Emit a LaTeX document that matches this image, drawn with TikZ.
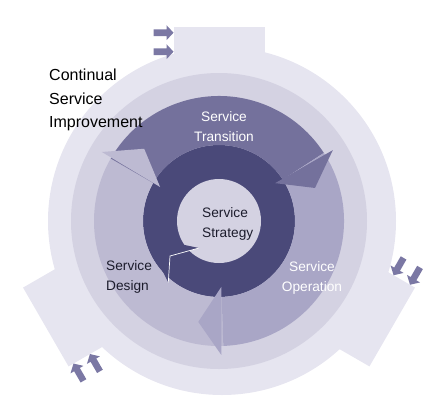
\documentclass[tikz,border=0pt]{standalone}
\usepackage{fontspec}
\setmainfont{Liberation Sans}
\definecolor{cOuter}{HTML}{E6E5F0}
\definecolor{cMid}{HTML}{D4D2E2}
\definecolor{cDesign}{HTML}{BDBAD2}
\definecolor{cOper}{HTML}{A9A6C6}
\definecolor{cTrans}{HTML}{74719C}
\definecolor{cDark}{HTML}{4A4979}
\definecolor{cCenter}{HTML}{D4D2E2}
\definecolor{cSmall}{HTML}{7B78A4}
\definecolor{cText}{HTML}{1C1C2C}
\tikzset{
  bigtext/.style={font=\fontsize{16}{23.5}\selectfont, align=left, text=black, inner sep=0pt},
  lbl/.style={font=\fontsize{13.7}{20}\selectfont, inner sep=0pt},
  smallarrow/.style={fill=cSmall},
}
\begin{document}
\begin{tikzpicture}[x=1pt,y=1pt]
\useasboundingbox (0,0) rectangle (444,-402);
\coordinate (C) at (219,-221);
\coordinate (T) at (219,-227);
% outer light circle
\fill[cOuter] (222,-221) circle (174);
% tabs with small arrows
\foreach \r in {0,120,240}{
  \begin{scope}[shift={(T)}, rotate=\r]
    \fill[cOuter] (-45.5,0) rectangle (45.5,200);
    \foreach \u in {194.3,175.3}{
      \fill[smallarrow] (-65.5,\u-3.3) -- (-52.5,\u-3.3) -- (-52.5,\u-7.5) -- (-45.5,\u)
        -- (-52.5,\u+7.5) -- (-52.5,\u+3.3) -- (-65.5,\u+3.3) -- cycle;
    }
  \end{scope}
}
% medium ring
\fill[cMid] (C) circle (148);
% dark ring
\fill[cDark] (C) circle (76);
\begin{scope}[shift={(C)}]
  % arrow bodies
  \fill[cDesign] (272:125) arc[start angle=272, end angle=150, radius=125]
     -- (150:76) arc[start angle=150, end angle=272, radius=76] -- cycle;
  \fill[cTrans] (150:125) arc[start angle=150, end angle=33, radius=125]
     -- (33:76) arc[start angle=33, end angle=150, radius=76] -- cycle;
  \fill[cOper] (33:125) arc[start angle=33, end angle=-88, radius=125]
     -- (-88:76) arc[start angle=-88, end angle=33, radius=76] -- cycle;
  % arrow heads
  \fill[cDesign] (149.5:136) -- (136:104) -- (150:68) -- cycle;
  \fill[cTrans] (31.9:134) -- (19:101.5) -- (34:67.7) -- cycle;
  \fill[cOper] (271:134) -- (258.4:103) -- (272:66) -- cycle;
  % centre
  \fill[cCenter] (0,0) circle (42);
\end{scope}
% dark ring arrow head detail
\fill[cDark] (168.3,-282.5) -- (170,-256) -- (199,-248) -- (180,-244) -- (160,-266) -- cycle;
\draw[white, line width=0.7pt, line join=miter] (168.3,-282.5) -- (170,-256) -- (199,-248);
% labels
\node[bigtext, anchor=west] (csi) at (49,-100) {Continual\\Service\\Improvement};
\node[lbl, text=white, align=center] (st) at (224,-127) {Service\\Transition};
\node[lbl, text=cText, align=left, anchor=west] (ss) at (202,-223.5) {Service\\Strategy};
\node[lbl, text=cText, align=left, anchor=west] (sd) at (106,-276.5) {Service\\Design};
\node[lbl, text=white, align=center] (so) at (312,-277.5) {Service\\Operation};
\end{tikzpicture}
\end{document}
